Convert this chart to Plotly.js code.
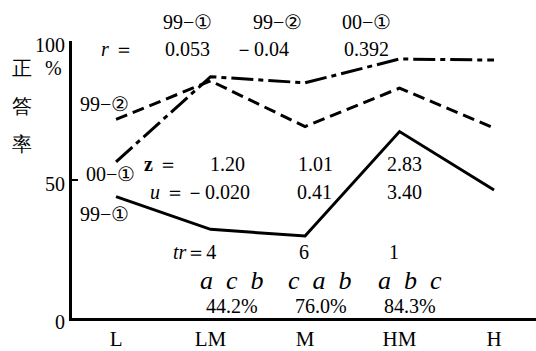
<!DOCTYPE html>
<html>
<head>
<meta charset="utf-8">
<script src="https://cdn.plot.ly/plotly-3.0.1.min.js"></script>
<style>
  body { margin: 0; background: #fff; }
</style>
</head>
<body>
<div id="plot" style="width:536px;height:351px"></div>
<script>
// 正答率 by group
const groups = ['L', 'LM', 'M', 'HM', 'H'];
const q99_1 = [43.8, 32.0, 29.6, 67.3, 46.2];
const q99_2 = [71.7, 85.6, 69.1, 83.0, 68.6];
const q00_1 = [56.4, 87.1, 84.9, 93.5, 93.1];
const yTicks = [0, 50, 100];

// plotly quotes the whole family string, so only one name per font
const serif = 'Liberation Serif';

function line(y, dash) {
    return {
        x: groups,
        y: y,
        type: 'scatter',
        mode: 'lines',
        line: { color: '#000', width: 3, dash: dash },
        hoverinfo: 'skip'
    };
}

// text placed by pixel position inside the 536x351 frame
function note(text, x, y, size) {
    return {
        text: text,
        xref: 'paper',
        yref: 'paper',
        x: (x - 72) / 464,
        y: (318 - y) / 277,
        xanchor: 'center',
        yanchor: 'middle',
        showarrow: false,
        font: { family: serif, size: size || 20, color: '#000' }
    };
}

const notes = [
    note('99−①', 187, 22),
    note('99−②', 277, 22),
    note('00−①', 366, 22),
    note('<i>r</i> ＝', 117, 49),
    note('0.053', 187, 49),
    note('－0.04', 261, 49),
    note('0.392', 366, 49),
    note('正', 22, 68),
    note('%', 53, 68),
    note('答', 22, 106),
    note('率', 22, 144),
    note('99−②', 104, 104),
    note('00−①', 110, 174),
    note('99−①', 104, 214),
    note('<b>z</b> ＝', 161, 164),
    note('1.20', 227, 164),
    note('1.01', 315, 164),
    note('2.83', 404, 164),
    note('<i>u</i> ＝－0.020', 200, 192),
    note('0.41', 314, 192),
    note('3.40', 404, 192),
    note('<i>tr</i>＝4', 194, 252),
    note('6', 304, 252),
    note('1', 394, 252),
    note('<i>a  c  b</i>', 232, 280, 26),
    note('<i>c  a  b</i>', 320, 280, 26),
    note('<i>a  b  c</i>', 410, 280, 26),
    note('44.2%', 232, 306),
    note('76.0%', 321, 306),
    note('84.3%', 410, 306)
];

const layout = {
    width: 536,
    height: 351,
    margin: { l: 72, r: 0, t: 41, b: 33 },
    paper_bgcolor: '#fff',
    plot_bgcolor: '#fff',
    showlegend: false,
    font: { family: serif, size: 20, color: '#000' },
    xaxis: {
        type: 'category',
        range: [-0.466, 4.444],
        showline: true,
        linewidth: 3,
        linecolor: '#000',
        showgrid: false,
        zeroline: false,
        ticks: '',
        tickfont: { family: serif, size: 21, color: '#000' }
    },
    yaxis: {
        range: [0, 100],
        tickvals: yTicks,
        showline: true,
        linewidth: 3,
        linecolor: '#000',
        showgrid: false,
        zeroline: false,
        ticks: 'inside',
        ticklen: 6,
        tickwidth: 2,
        tickcolor: '#000',
        ticklabelshift: 4,
        tickfont: { family: serif, size: 20, color: '#000' }
    },
    annotations: notes
};

Plotly.newPlot('plot', [
    line(q99_1, 'solid'),
    line(q99_2, '12px,6px'),
    line(q00_1, '22px,5px,5px,5px')
], layout, { displayModeBar: false });
</script>
</body>
</html>
